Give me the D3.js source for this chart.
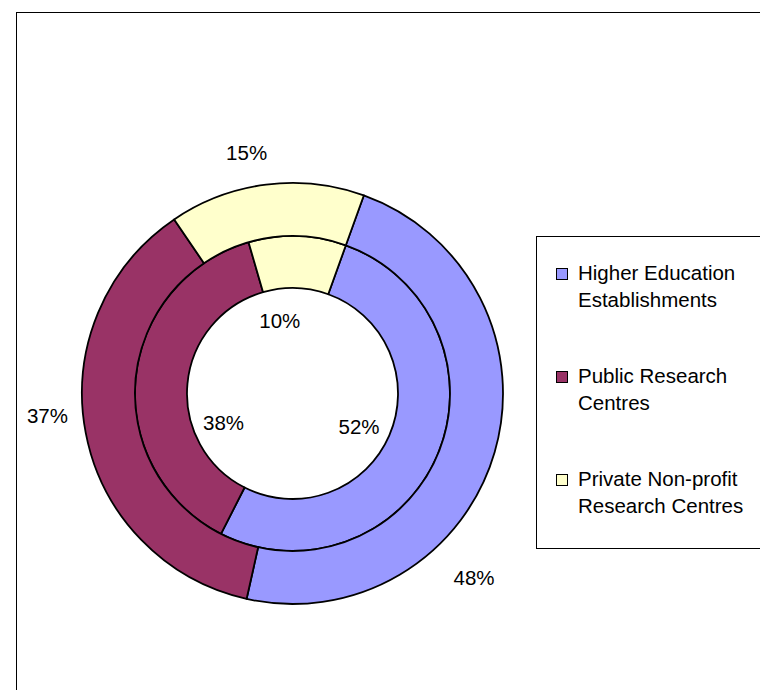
<!DOCTYPE html>
<html>
<head>
<meta charset="utf-8">
<script src="https://cdn.jsdelivr.net/npm/d3@7"></script>
<style>
  body { margin: 0; background: #fff; }
  svg { display: block; font-family: "Liberation Sans", Arial, sans-serif; }
</style>
</head>
<body>
<script>
// data
let categories = ["Higher Education Establishments", "Public Research Centres", "Private Non-profit Research Centres"];
let legendLines = [["Higher Education", "Establishments"], ["Public Research", "Centres"], ["Private Non-profit", "Research Centres"]];
let outerValues = [48, 37, 15];
let innerValues = [52, 38, 10];
let colors = ["#9999FF", "#993366", "#FFFFCC"];

// label spots: [angle in degrees clockwise from top, radius]
let outerLabelSpots = [[135.4, 258.5], [264.9, 246], [349.2, 245]];
let innerLabelSpots = [[116.3, 74.2], [246.8, 75], [350.1, 74.1]];

let width = 760;
let height = 690;
let cx = 292.5, cy = 393.5;
let outerR = 210.5, midR = 157.5, holeR = 105.5;
let startDeg = 19.8;

let svg = d3.select("body").append("svg").attr("width", width).attr("height", height);

// chart frame
svg.append("rect")
    .attr("x", 16.5).attr("y", 12.5)
    .attr("width", 800).attr("height", 700)
    .attr("fill", "none").attr("stroke", "#000").attr("stroke-width", 1);

let color = d3.scaleOrdinal().domain(categories).range(colors);

let pie = d3.pie()
    .sort(null)
    .startAngle(startDeg * Math.PI / 180)
    .endAngle(startDeg * Math.PI / 180 + 2 * Math.PI);

let rings = [
    {values: innerValues, inner: holeR, outer: midR, spots: innerLabelSpots},
    {values: outerValues, inner: midR, outer: outerR, spots: outerLabelSpots}
];

let g = svg.append("g").attr("transform", `translate(${cx},${cy})`);

rings.forEach(ring => {
    let arc = d3.arc().innerRadius(ring.inner).outerRadius(ring.outer);
    let arcs = pie(ring.values);
    g.append("g")
        .attr("stroke", "#000")
        .attr("stroke-width", 1.8)
        .attr("stroke-linejoin", "round")
        .selectAll("path")
        .data(arcs)
        .join("path")
        .attr("fill", (d, i) => color(categories[i]))
        .attr("d", arc);

    g.append("g")
        .attr("font-size", 20.5)
        .attr("text-anchor", "middle")
        .attr("fill", "#000")
        .selectAll("text")
        .data(arcs)
        .join("text")
        .attr("x", (d, i) => ring.spots[i][1] * Math.sin(ring.spots[i][0] * Math.PI / 180))
        .attr("y", (d, i) => -ring.spots[i][1] * Math.cos(ring.spots[i][0] * Math.PI / 180))
        .attr("dy", "0.36em")
        .text(d => d.data + "%");
});

// legend
let legend = svg.append("g");
legend.append("rect")
    .attr("x", 536.5).attr("y", 236.5)
    .attr("width", 300).attr("height", 312)
    .attr("fill", "#fff").attr("stroke", "#000").attr("stroke-width", 1);

let item = legend.selectAll("g.item")
    .data(categories)
    .join("g")
    .attr("class", "item")
    .attr("transform", (d, i) => `translate(0,${280 + i * 103})`);

item.append("rect")
    .attr("x", 556.5).attr("y", -11.5)
    .attr("width", 11).attr("height", 11)
    .attr("fill", d => color(d))
    .attr("stroke", "#000").attr("stroke-width", 1);

item.append("text")
    .attr("x", 578)
    .attr("font-size", 20.5)
    .attr("fill", "#000")
    .selectAll("tspan")
    .data((d, i) => legendLines[i])
    .join("tspan")
    .attr("x", 578)
    .attr("y", (d, j) => j * 27)
    .text(d => d);
</script>
</body>
</html>
